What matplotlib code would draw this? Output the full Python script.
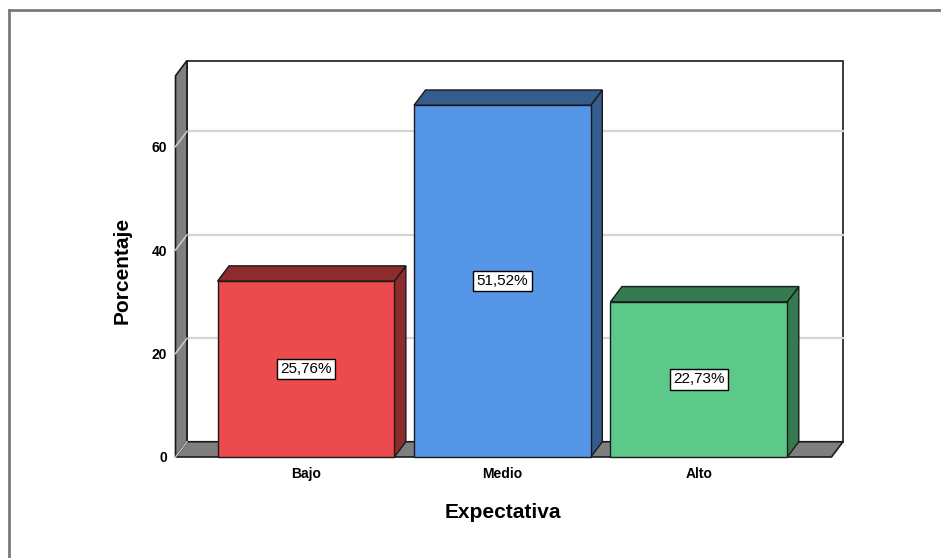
import numpy as np
import matplotlib.pyplot as plt
from matplotlib.patches import Polygon, Rectangle
from matplotlib.lines import Line2D

plt.rcParams['font.family'] = ['Liberation Sans', 'DejaVu Sans']

# data
categories = ["Bajo", "Medio", "Alto"]
bar_heights = [34, 68, 30]
labels = ["25,76%", "51,52%", "22,73%"]
yticks = [0, 20, 40, 60]

front_colors = ["#EC4B4D", "#5596E6", "#5CC98B"]
dark_colors = ["#8E2B2D", "#345C8C", "#367A50"]

# 3d look: depth offset in data units
dx = 0.0585
dy = 2.95
x0, x1 = -0.664, 2.675
ytop = 73.7
bar_w = 0.9

fig = plt.figure(figsize=(9.41, 5.58), dpi=100)
W, H = 941, 558
ax = fig.add_axes([175.5 / W, (H - 457) / H, (843 - 175.5) / W, (457 - 60.5) / H])
ax.set_xlim(x0, x1 + dx)
ax.set_ylim(0, ytop + dy)
for s in ax.spines.values():
    s.set_visible(False)

edge = "#1a1a1a"
wall = "#7f7f7f"

# back wall
ax.add_patch(Rectangle((x0 + dx, dy), x1 - x0, ytop, facecolor="white",
                       edgecolor=edge, lw=1.2, clip_on=False, zorder=1))
# left wall
ax.add_patch(Polygon([(x0, 0), (x0 + dx, dy), (x0 + dx, ytop + dy), (x0, ytop)],
                     closed=True, facecolor=wall, edgecolor=edge, lw=1.2,
                     clip_on=False, zorder=2))
# floor
ax.add_patch(Polygon([(x0, 0), (x1, 0), (x1 + dx, dy), (x0 + dx, dy)],
                     closed=True, facecolor=wall, edgecolor=edge, lw=1.2,
                     clip_on=False, zorder=2))

# grid lines on back wall + left wall
for v in yticks[1:]:
    ax.plot([x0 + dx, x1 + dx], [v + dy, v + dy], color="#d4d4d4", lw=1.6,
            zorder=1.5, clip_on=False)
    ax.plot([x0, x0 + dx], [v, v + dy], color="#c8c8c8", lw=1.2,
            zorder=2.5, clip_on=False)
ax.plot([x0, x0 + dx], [0, dy], color="#c8c8c8", lw=1.0, zorder=2.5, clip_on=False)

# bars
xs = np.arange(len(categories))
for i, (c, h) in enumerate(zip(xs, bar_heights)):
    l, r = c - bar_w / 2, c + bar_w / 2
    ax.add_patch(Polygon([(r, 0), (r + dx, dy), (r + dx, h + dy), (r, h)],
                         closed=True, facecolor=dark_colors[i], edgecolor=edge,
                         lw=1, zorder=3, clip_on=False))
    ax.add_patch(Polygon([(l, h), (r, h), (r + dx, h + dy), (l + dx, h + dy)],
                         closed=True, facecolor=dark_colors[i], edgecolor=edge,
                         lw=1, zorder=3, clip_on=False))
    ax.add_patch(Rectangle((l, 0), bar_w, h, facecolor=front_colors[i],
                           edgecolor=edge, lw=1, zorder=4, clip_on=False))
    ax.text(c, h / 2, labels[i], ha="center", va="center", fontsize=11,
            zorder=5, bbox=dict(boxstyle="square,pad=0.22", facecolor="white",
                                edgecolor="black", lw=1))

ax.set_yticks(yticks)
ax.set_yticklabels([str(t) for t in yticks], fontweight="bold", fontsize=10)
ax.set_xticks(xs)
ax.set_xticklabels(categories, fontweight="bold", fontsize=10)
ax.tick_params(axis="y", length=0, pad=6)
ax.tick_params(axis="x", length=0, pad=7)

fig.text(122 / W, 1 - 270 / H, "Porcentaje", rotation=90, ha="center",
         va="center", fontsize=15, fontweight="bold")
fig.text(503 / W, 1 - 513 / H, "Expectativa", ha="center", va="center",
         fontsize=15, fontweight="bold")

# outer frame
fig.add_artist(Line2D([8.5 / W, 8.5 / W], [0, 1 - 9.5 / H], transform=fig.transFigure,
                      color="#7a7a7a", lw=2))
fig.add_artist(Line2D([8.5 / W, 1], [1 - 9.5 / H, 1 - 9.5 / H], transform=fig.transFigure,
                      color="#7a7a7a", lw=2))

fig.savefig("out.png", dpi=100)
